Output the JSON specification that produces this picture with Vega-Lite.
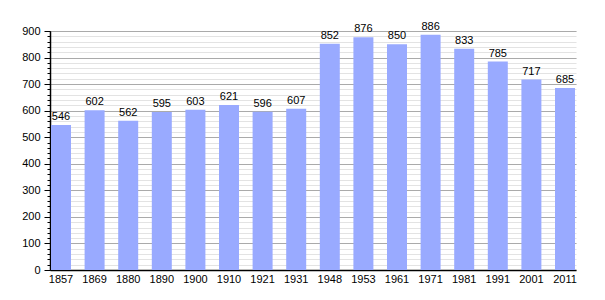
{
  "$schema": "https://vega.github.io/schema/vega-lite/v6.json",
  "autosize": "none",
  "padding": {"left": 50, "top": 31, "right": 29, "bottom": 30},
  "width": 526,
  "height": 239,
  "background": "white",
  "config": {
    "view": {"stroke": null},
    "font": "Liberation Sans",
    "axis": {"labelFont": "Liberation Sans", "labelFontSize": 11, "labelColor": "#000"}
  },
  "data": {
    "values": [
      {"year": "1857", "pop": 546},
      {"year": "1869", "pop": 602},
      {"year": "1880", "pop": 562},
      {"year": "1890", "pop": 595},
      {"year": "1900", "pop": 603},
      {"year": "1910", "pop": 621},
      {"year": "1921", "pop": 596},
      {"year": "1931", "pop": 607},
      {"year": "1948", "pop": 852},
      {"year": "1953", "pop": 876},
      {"year": "1961", "pop": 850},
      {"year": "1971", "pop": 886},
      {"year": "1981", "pop": 833},
      {"year": "1991", "pop": 785},
      {"year": "2001", "pop": 717},
      {"year": "2011", "pop": 685}
    ]
  },
  "encoding": {
    "x": {
      "field": "year", "type": "ordinal", "sort": null,
      "scale": {"paddingInner": 0.405, "paddingOuter": 0.03},
      "axis": {"title": null, "labelAngle": 0, "ticks": false, "domainColor": "#000", "domainWidth": 1.5, "labelPadding": 3}
    }
  },
  "layer": [
    {
      "mark": {"type": "bar", "color": "#99aaff"},
      "encoding": {
        "y": {
          "field": "pop", "type": "quantitative",
          "scale": {"domain": [0, 900], "nice": false},
          "axis": {
            "title": null, "labels": false, "domain": false,
            "values": [0,20,40,60,80,100,120,140,160,180,200,220,240,260,280,300,320,340,360,380,400,420,440,460,480,500,520,540,560,580,600,620,640,660,680,700,720,740,760,780,800,820,840,860,880,900],
            "grid": true, "gridColor": "#e3e3e3", "gridWidth": 1,
            "tickSize": 3, "tickColor": "#000", "orient": "left"
          }
        }
      }
    },
    {
      "mark": {"type": "text", "baseline": "bottom", "dy": -3, "fontSize": 11, "font": "Liberation Sans", "color": "#000"},
      "encoding": {
        "y": {
          "field": "pop", "type": "quantitative",
          "scale": {"domain": [0, 900], "nice": false},
          "axis": {
            "title": null, "orient": "left",
            "values": [0,100,200,300,400,500,600,700,800,900],
            "grid": true, "gridColor": "#aaaaaa", "gridWidth": 1,
            "tickSize": 6, "tickColor": "#000", "domainColor": "#000", "domainWidth": 1.5,
            "labelPadding": 4
          }
        },
        "text": {"field": "pop", "type": "quantitative"}
      }
    }
  ],
  "resolve": {"axis": {"y": "independent"}}
}
